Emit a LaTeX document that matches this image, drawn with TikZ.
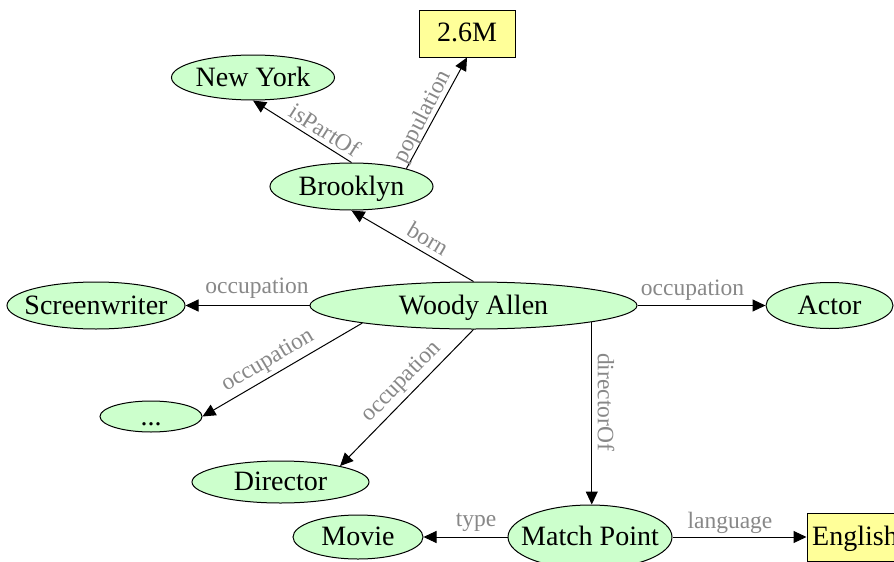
\documentclass[tikz,border=0pt]{standalone}
\usepackage{fontspec}
\setmainfont{Liberation Serif}
\usetikzlibrary{shapes.geometric,arrows.meta}
\definecolor{nodegreen}{HTML}{CCFFCC}
\definecolor{boxyellow}{HTML}{FFFF99}
\definecolor{labgray}{HTML}{888888}
\newcommand\ntxt[1]{\makebox[0pt]{\raisebox{-8.5pt}[0pt][0pt]{#1}}}
\begin{document}
\begin{tikzpicture}[x=1pt,y=-1pt,
  ent/.style={ellipse,draw=black,line width=1pt,fill=nodegreen,inner sep=0pt,font=\fontsize{28}{34}\selectfont},
  lit/.style={rectangle,draw=black,line width=1pt,fill=boxyellow,inner sep=0pt,font=\fontsize{28}{34}\selectfont},
  arr/.style={line width=1pt,-{Triangle[length=13pt,width=12pt]}},
  elab/.style={text=labgray,inner sep=0pt,font=\fontsize{23.5}{28}\selectfont}]
\path[fill=white,use as bounding box] (0,0) rectangle (894,562);

\node[ent,minimum width=163,minimum height=45] (ny) at (253,77.5) {\ntxt{New York}};
\node[lit,minimum width=96,minimum height=47] (pop) at (467,33.5) {\ntxt{2.6M}};
\node[ent,minimum width=163,minimum height=47] (bk) at (351.5,186.5) {\ntxt{Brooklyn}};
\node[ent,minimum width=327,minimum height=47] (wa) at (473.5,305.5) {\ntxt{Woody Allen}};
\node[ent,minimum width=178,minimum height=47] (sw) at (96,305.5) {\ntxt{Screenwriter}};
\node[ent,minimum width=127,minimum height=46] (ac) at (829.5,305.5) {\ntxt{Actor}};
\node[ent,minimum width=102,minimum height=31] (dots) at (151,416.5) {\ntxt{...}};
\node[ent,minimum width=177,minimum height=42] (dir) at (280.5,482) {\ntxt{Director}};
\node[ent,minimum width=164,minimum height=64] (mp) at (590,537) {\ntxt{Match Point}};
\node[ent,minimum width=130,minimum height=44] (mv) at (358,537) {\ntxt{Movie}};
\node[lit,minimum width=96,minimum height=48] (en) at (855,537) {\ntxt{English}};

\draw[arr] (wa.north) -- (bk.south);
\draw[arr] (bk.north) -- (ny.south);
\draw[arr] (bk.18) -- (pop.south);
\draw[arr] (wa.west) -- (sw.east);
\draw[arr] (wa.east) -- (ac.west);
\draw[arr] (wa.189) -- (dots.east);
\draw[arr] (wa.south) -- (dir.15);
\draw[arr] (wa.352) -- (wa.352 |- mp.north);
\draw[arr] (mp.west) -- (mv.east);
\draw[arr] (mp.east) -- (en.west);

\node[elab,rotate=-30.6] (lborn) at (428,239) {born};
\node[elab,rotate=-32.6] (lpart) at (325,130) {isPartOf};
\node[elab,rotate=63] (lpop) at (423,117) {population};
\node[elab] (locc1) at (257,288.5) {occupation};
\node[elab] (locc2) at (692.5,290) {occupation};
\node[elab,rotate=30.7] (locc3) at (268,361) {occupation};
\node[elab,rotate=45.9] (locc4) at (402,382) {occupation};
\node[elab,rotate=-90] (ldir) at (606,402) {directorOf};
\node[elab] (ltype) at (476,522.5) {type};
\node[elab] (llang) at (730,522.5) {language};
\end{tikzpicture}
\end{document}
